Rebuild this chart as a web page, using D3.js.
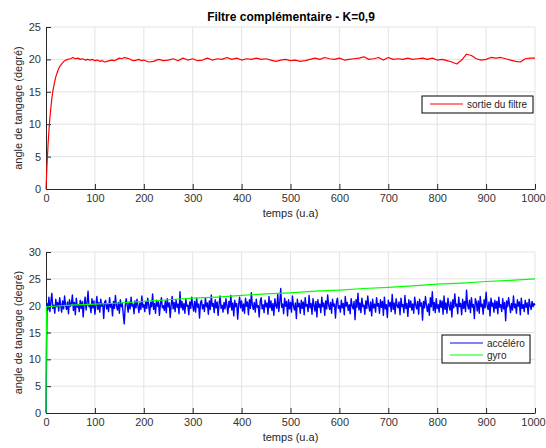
<!DOCTYPE html>
<html>
<head>
<meta charset="utf-8">
<script src="https://cdn.jsdelivr.net/npm/d3@7"></script>
<style>
  body { margin: 0; background: #fff; }
  svg { display: block; font-family: "Liberation Sans", Arial, sans-serif; }
</style>
</head>
<body>
<div id="chart"></div>
<script>
// --- data ---
const titleText = "Filtre complémentaire - K=0,9";
const xLabel = "temps (u.a)";
const yLabel = "angle de tangage (degré)";
const xTicks = [0, 100, 200, 300, 400, 500, 600, 700, 800, 900, 1000];
const yTicksTop = [0, 5, 10, 15, 20, 25];
const yTicksBottom = [0, 5, 10, 15, 20, 25, 30];

// filter output (red)
const filtreT = [0, 2, 4, 6, 8, 10, 12, 14, 17, 20, 24, 28, 33, 38, 44, 50,
    55, 60, 65, 70, 75, 80, 85, 90, 95, 100, 105, 110, 115, 120, 125, 130, 135, 140, 145, 150,
    155, 160, 165, 170, 175, 180, 185, 190, 195, 200, 210, 220, 230, 240, 250,
    260, 270, 280, 290, 300, 310, 320, 330, 340, 350,
    360, 370, 380, 390, 400, 410, 420, 430, 440, 450, 460, 470, 480, 490, 500,
    510, 520, 530, 540, 550, 560, 570, 580, 590, 600, 610, 620, 630, 640, 650,
    660, 670, 680, 690, 700, 710, 720, 730, 740, 750, 760, 770, 780, 790, 800,
    810, 820, 830, 840, 850, 860, 870, 880, 890, 900, 910, 920, 930, 940, 950,
    960, 970, 980, 990, 1000];
const filtreAngle = [0, 3.6, 6.6, 9.0, 11.0, 12.6, 14.0, 15.1, 16.3, 17.3, 18.2, 18.9, 19.4, 19.8, 20.0, 20.1,
    20.3, 20.1, 20.2, 20.0, 20.1, 19.9, 20.0, 19.9, 20.0, 19.8, 19.9, 19.7, 19.8, 19.6, 19.7, 19.8, 19.9, 19.8, 20.0, 20.2,
    20.1, 20.3, 20.2, 20.1, 19.9, 19.8, 19.9, 20.0, 19.8, 19.9,
    19.6, 19.7, 20.0, 19.8, 19.9, 20.1, 19.8, 20.2, 19.9, 20.1, 19.8, 19.9, 20.2, 19.9, 20.1,
    20.0, 20.3, 20.0, 20.2, 19.9, 20.1, 20.0, 20.2, 20.0, 20.1, 19.9, 19.7, 19.9, 20.0, 19.8,
    19.9, 19.7, 19.8, 20.0, 20.2, 20.0, 20.3, 20.1, 20.0, 20.2, 19.9, 20.0, 20.1, 20.2, 20.4,
    20.0, 20.1, 20.3, 19.9, 20.3, 20.0, 20.1, 20.0, 20.2, 20.0, 20.1, 20.2, 20.0, 20.2, 19.9,
    20.0, 19.8, 19.6, 19.3, 19.9, 20.8, 20.6, 20.1, 19.9, 20.0, 20.3, 20.2, 20.3, 20.1, 19.9,
    19.7, 19.6, 20.1, 20.2, 20.2];

// gyro (green)
const gyroT = [0, 1, 50, 100, 150, 200, 250, 300, 350, 400, 450, 500, 550, 600,
    650, 700, 750, 800, 850, 900, 950, 1000];
const gyroAngle = [0, 19.8, 20.1, 20.3, 20.5, 20.8, 21.1, 21.4, 21.6, 21.9, 22.2, 22.4, 22.7, 22.9,
    23.2, 23.4, 23.7, 24.0, 24.2, 24.5, 24.7, 25.0];

// accelerometer (blue), one sample every 2 time units starting at t=0
const accelStep = 2;
const accelAngle = [0,
    20.4, 19.2, 21.6, 18.9, 20.8, 22.3, 19.5, 20.1, 18.6, 21.2, 19.8, 20.6, 19.0, 21.5, 20.2, 18.8, 20.9, 19.4, 21.8, 20.0,
    19.3, 20.7, 18.5, 21.1, 19.9, 20.4, 22.0, 19.1, 20.6, 18.3, 21.4, 19.7, 20.2, 18.9, 21.0, 19.5, 20.8, 17.9, 20.3, 21.6,
    19.2, 20.5, 22.7, 19.8, 20.1, 18.7, 21.3, 19.6, 20.9, 18.4, 20.0, 21.7, 19.3, 20.6, 18.8, 21.2, 19.9, 20.4, 17.6, 20.7,
    21.0, 19.4, 20.2, 18.9, 21.5, 19.7, 20.3, 18.1, 20.8, 19.5, 21.9, 20.0, 19.2, 20.6, 18.6, 21.1, 19.8, 20.4, 18.3, 16.6,
    19.9, 21.3, 20.1, 18.8, 20.7, 19.4, 21.6, 19.9, 20.3, 18.5, 20.9, 19.6, 21.2, 20.0, 18.7, 20.5, 19.3, 21.8, 19.7, 20.2,
    18.9, 20.8, 19.5, 21.4, 20.1, 18.4, 20.6, 19.8, 22.2, 19.3, 20.4, 18.6, 21.0, 19.9, 20.7, 18.2, 20.3, 21.5, 19.6, 20.0,
    19.1, 20.9, 18.7, 21.3, 19.8, 20.5, 17.8, 20.2, 21.7, 19.4, 20.6, 18.9, 21.1, 19.7, 20.3, 18.5, 22.6, 19.6, 20.8, 19.2,
    20.4, 18.6, 21.2, 19.9, 20.1, 18.3, 20.7, 19.5, 21.6, 20.0, 19.0, 20.8, 18.8, 21.4, 19.7, 20.3, 17.7, 20.6, 21.0, 19.4,
    20.2, 18.9, 21.5, 19.8, 20.5, 18.4, 20.9, 19.3, 22.0, 19.9, 20.4, 18.7, 21.1, 19.6, 20.7, 18.2, 20.3, 21.8, 19.5, 20.1,
    18.8, 20.6, 19.4, 21.3, 20.0, 18.5, 20.8, 19.7, 21.9, 19.2, 20.5, 18.1, 21.0, 19.8, 20.4, 17.5, 20.2, 21.6, 19.6, 20.9,
    19.0, 20.3, 18.6, 21.4, 19.9, 20.7, 18.3, 21.1, 19.5, 22.4, 20.1, 19.3, 20.6, 18.8, 21.2, 19.7, 20.0, 17.9, 20.8, 21.5,
    19.4, 20.2, 18.7, 21.0, 19.8, 20.5, 18.4, 21.7, 19.6, 20.9, 19.1, 20.4, 18.2, 21.3, 20.0, 19.5, 22.1, 18.9, 20.6, 23.2,
    19.7, 20.3, 18.5, 21.4, 19.9, 20.8, 18.1, 21.1, 19.4, 20.6, 18.8, 21.8, 20.0, 19.2, 20.5, 17.6, 21.2, 19.8, 20.4, 18.6,
    21.0, 19.5, 20.7, 18.3, 21.5, 19.9, 20.2, 18.9, 21.9, 19.6, 20.4, 18.4, 21.3, 20.1, 19.0, 20.8, 17.9, 21.1, 19.7, 20.3,
    18.7, 21.6, 19.8, 20.5, 18.2, 20.9, 19.4, 22.0, 20.1, 19.3, 20.6, 18.6, 21.2, 19.9, 20.3, 17.7, 20.7, 21.4, 19.5, 20.0,
    18.8, 21.0, 19.6, 20.4, 18.3, 21.7, 19.9, 20.6, 19.1, 20.2, 18.5, 21.3, 20.0, 19.4, 20.8, 17.4, 21.1, 19.7, 22.3, 19.2,
    20.5, 18.7, 21.4, 19.8, 20.1, 18.4, 20.9, 19.5, 21.8, 20.0, 19.0, 20.7, 18.1, 21.2, 19.6, 20.3, 18.8, 21.5, 19.9, 20.4,
    18.6, 21.1, 19.7, 20.8, 18.2, 21.6, 19.4, 20.2, 17.8, 21.0, 19.9, 20.6, 18.9, 22.1, 19.3, 20.5, 18.5, 21.3, 20.0, 19.6,
    20.7, 18.3, 21.4, 19.8, 20.2, 18.7, 21.9, 19.5, 20.4, 18.0, 21.1, 19.7, 20.9, 19.2, 20.3, 18.6, 21.6, 20.1, 19.4, 20.8,
    18.4, 21.2, 19.9, 20.5, 17.3, 20.8, 19.6, 21.7, 20.0, 18.9, 20.3, 18.2, 21.5, 19.8, 22.6, 19.1, 20.6, 18.7, 21.3, 19.5,
    20.2, 18.8, 21.0, 19.7, 20.9, 18.4, 21.8, 19.3, 20.5, 18.6, 21.4, 20.0, 19.2, 20.7, 17.9, 21.1, 19.6, 22.2, 19.9, 20.3,
    18.5, 21.6, 19.8, 20.4, 18.3, 21.2, 19.5, 20.8, 18.9, 22.9, 20.1, 19.4, 21.0, 18.7, 21.5, 19.7, 20.2, 17.6, 21.3, 20.6,
    19.0, 20.9, 18.6, 21.7, 19.8, 20.3, 18.4, 21.1, 19.6, 22.5, 20.0, 19.3, 20.7, 18.1, 21.4, 19.9, 20.5, 18.8, 21.0, 19.5,
    20.8, 18.5, 21.6, 19.7, 20.2, 18.9, 21.3, 19.4, 20.6, 17.2, 20.9, 19.8, 21.5, 20.1, 18.7, 20.4, 19.2, 21.8, 19.6, 20.3,
    18.6, 21.1, 19.9, 20.7, 18.3, 21.4, 19.5, 20.2, 18.9, 21.0, 19.7, 20.5, 18.4, 21.2, 20.0, 19.3, 20.8, 19.8, 20.4, 20.1];

// --- drawing ---
const width = 546, height = 448;
const left = 46, right = 535;

const svg = d3.select("#chart").append("svg")
    .attr("width", width)
    .attr("height", height);

const x = d3.scaleLinear().domain([0, 1000]).range([left, right]);

function panel(top, bottom, yMax, yTicks) {
    let y = d3.scaleLinear().domain([0, yMax]).range([bottom, top]);
    let g = svg.append("g");

    // grid
    g.append("g").selectAll("line")
        .data(xTicks.slice(1))
        .enter().append("line")
        .attr("x1", d => x(d)).attr("x2", d => x(d))
        .attr("y1", top).attr("y2", bottom)
        .attr("stroke", "#e3e3e3");
    g.append("g").selectAll("line")
        .data(yTicks.slice(1))
        .enter().append("line")
        .attr("x1", left).attr("x2", right)
        .attr("y1", d => y(d)).attr("y2", d => y(d))
        .attr("stroke", "#e3e3e3");

    // axes, ticks inside
    let xAxis = g.append("g")
        .attr("transform", `translate(0,${bottom})`)
        .call(d3.axisBottom(x).tickValues(xTicks).tickFormat(d3.format("d"))
            .tickSize(-5).tickSizeOuter(0).tickPadding(5));
    let yAxis = g.append("g")
        .attr("transform", `translate(${left},0)`)
        .call(d3.axisLeft(y).tickValues(yTicks).tickSize(-5).tickSizeOuter(0).tickPadding(5));
    [xAxis, yAxis].forEach(a => {
        a.select(".domain").attr("stroke", "#262626");
        a.selectAll(".tick line").attr("stroke", "#262626");
        a.selectAll(".tick text")
            .attr("fill", "#333")
            .style("font-size", "11px")
            .style("font-family", "'Liberation Sans', Arial, sans-serif");
    });
    // keep the last label inside the page
    xAxis.selectAll(".tick text").filter(d => d === 1000).attr("dx", -2);

    // labels
    g.append("text")
        .attr("x", (left + right) / 2)
        .attr("y", bottom + 28)
        .attr("text-anchor", "middle")
        .attr("font-size", 11)
        .attr("fill", "#262626")
        .text(xLabel);
    g.append("text")
        .attr("transform", `translate(22,${(top + bottom) / 2}) rotate(-90)`)
        .attr("text-anchor", "middle")
        .attr("font-size", 11)
        .attr("fill", "#262626")
        .text(yLabel);

    return y;
}

function drawLine(y, xs, ys, color, w) {
    let line = d3.line()
        .x(d => x(d[0]))
        .y(d => y(d[1]));
    svg.append("path")
        .datum(xs.map((t, i) => [t, ys[i]]))
        .attr("fill", "none")
        .attr("stroke", color)
        .attr("stroke-width", w)
        .attr("stroke-linejoin", "round")
        .attr("d", line);
}

function legend(x0, y0, w, h, items) {
    let g = svg.append("g");
    g.append("rect")
        .attr("x", x0).attr("y", y0)
        .attr("width", w).attr("height", h)
        .attr("fill", "#fff")
        .attr("stroke", "#000");
    items.forEach((it, i) => {
        let cy = y0 + 8 + i * 12;
        g.append("line")
            .attr("x1", x0 + 8).attr("x2", x0 + 41)
            .attr("y1", cy).attr("y2", cy)
            .attr("stroke", it.color);
        g.append("text")
            .attr("x", x0 + 45)
            .attr("y", cy + 3.5)
            .attr("font-size", 10)
            .attr("fill", "#262626")
            .text(it.label);
    });
}

// title
svg.append("text")
    .attr("x", 291)
    .attr("y", 21)
    .attr("text-anchor", "middle")
    .attr("font-size", 12)
    .attr("font-weight", "bold")
    .attr("fill", "#000")
    .text(titleText);

// top panel
let yTop = panel(27, 189, 25, yTicksTop);
drawLine(yTop, filtreT, filtreAngle, "#ff0000", 1.2);
legend(422, 96, 111, 17, [{label: "sortie du filtre", color: "#ff0000"}]);

// bottom panel
let yBot = panel(252, 413, 30, yTicksBottom);
let accelT = accelAngle.map((v, i) => i * accelStep);
drawLine(yBot, accelT, accelAngle, "#0000ff", 1.4);
drawLine(yBot, gyroT, gyroAngle, "#00ff00", 1.2);
legend(442, 335, 88, 28, [
    {label: "accéléro", color: "#0000ff"},
    {label: "gyro", color: "#00ff00"}
]);
</script>
</body>
</html>
